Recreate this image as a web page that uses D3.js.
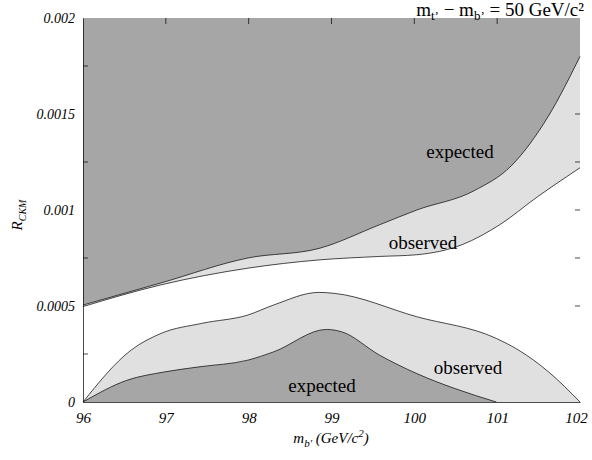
<!DOCTYPE html><html><head><script src="https://cdn.jsdelivr.net/npm/d3@7"></script>
<style>body{margin:0;background:#fff}text{font-family:"Liberation Serif","DejaVu Serif",serif !important}</style></head><body><svg id="c" width="592" height="460"></svg>
<script>
const xTicks=[96,97,98,99,100,101,102];
const yTicks=[0,0.0005,0.001,0.0015,0.002];
const yTickLabels=["0","0.0005","0.001","0.0015","0.002"];
const lowObsX=[96,96.58,96.94,97.44,97.99,98.3,98.85,99.03,100.03,100.99,101.26,101.62,102];
const lowObsY=[0,0.00027,0.000357,0.00041,0.000453,0.000505,0.000571,0.000566,0.000444,0.000331,0.00027,0.000157,0];
const lowExpX=[96,96.53,96.99,97.4,97.99,98.3,98.94,99.12,99.58,100.03,100.49,100.99];
const lowExpY=[0,0.000113,0.000157,0.000183,0.000218,0.000261,0.000378,0.000366,0.000244,0.000148,0.00007,0];
const upExpX=[96,96.94,97.99,98.85,99.58,100.03,100.72,101.17,101.62,102];
const upExpY=[0.000505,0.00062,0.00075,0.0008,0.000923,0.001,0.0011,0.00123,0.00149,0.0018];
const upObsX=[96,96.94,97.99,98.85,99.58,100.03,100.58,101.03,101.49,102];
const upObsY=[0.000497,0.00061,0.000697,0.00074,0.000758,0.000767,0.00082,0.000923,0.00107,0.00122];
const svg=d3.select("#c");
const x=d3.scaleLinear().domain([96,102]).range([83,580]);
const y=d3.scaleLinear().domain([0,0.002]).range([402,18]);
const zip=(a,b)=>a.map((v,i)=>[v,b[i]]);
const line=d3.line().x(d=>x(d[0])).y(d=>y(d[1])).curve(d3.curveMonotoneX);
const area=d3.area().x(d=>x(d[0])).y1(d=>y(d[1])).curve(d3.curveMonotoneX);
svg.append("path").attr("d",area.y0(y(0.002))(zip(upObsX,upObsY))).attr("fill","#e0e0e0");
svg.append("path").attr("d",area.y0(y(0.002))(zip(upExpX,upExpY))).attr("fill","#a6a6a6");
svg.append("path").attr("d",area.y0(y(0))(zip(lowObsX,lowObsY))).attr("fill","#e0e0e0");
svg.append("path").attr("d",area.y0(y(0))(zip(lowExpX,lowExpY))).attr("fill","#a6a6a6");
[[upObsX,upObsY],[upExpX,upExpY],[lowObsX,lowObsY],[lowExpX,lowExpY]].forEach(([a,b])=>
 svg.append("path").attr("d",line(zip(a,b))).attr("fill","none").attr("stroke","#000").attr("stroke-width",0.7));
const ax=svg.append("g").attr("transform","translate(0,402)").call(d3.axisBottom(x).tickValues(xTicks).tickFormat(d3.format("d")).tickSize(0).tickPadding(10));
ax.selectAll("text").attr("font-size",15).attr("font-style","italic");
ax.selectAll("text").filter(d=>d===102).attr("dx",-4);
ax.select(".domain").attr("stroke-width",0.7);
const ay=svg.append("g").attr("transform","translate(83,0)").call(d3.axisLeft(y).tickValues(yTicks).tickFormat((d,i)=>yTickLabels[i]).tickSize(0).tickPadding(8));
ay.selectAll("text").attr("font-size",14).attr("font-style","italic");
ay.select(".domain").attr("stroke-width",0.7);
xTicks.slice(1,-1).forEach(v=>{svg.append("line").attr("x1",x(v)).attr("x2",x(v)).attr("y1",18).attr("y2",24).attr("stroke","#000").attr("stroke-width",0.7);});
[0.0005,0.00075,0.001,0.0015,0.00125].forEach(v=>{svg.append("line").attr("x1",580).attr("x2",575).attr("y1",y(v)).attr("y2",y(v)).attr("stroke","#000").attr("stroke-width",0.7);});
[0.00025,0.00075,0.00125,0.00175].forEach(v=>{svg.append("line").attr("x1",83).attr("x2",88).attr("y1",y(v)).attr("y2",y(v)).attr("stroke","#000").attr("stroke-width",0.7);});
const t=(px,py,s,fs)=>svg.append("text").attr("x",px).attr("y",py).attr("font-size",fs||19).attr("text-anchor","middle").text(s);
t(460,158,"expected");t(423,249,"observed");t(468,374,"observed");t(322,392,"expected");
const ti=svg.append("text").attr("x",584).attr("y",16).attr("text-anchor","end").attr("font-size",19);
ti.append("tspan").text("m");ti.append("tspan").attr("font-size",13).attr("dy",4).text("t’");
ti.append("tspan").attr("dy",-4).text(" − m");ti.append("tspan").attr("font-size",13).attr("dy",4).text("b’");
ti.append("tspan").attr("dy",-4).text(" = 50 GeV/c²");
const xl=svg.append("text").attr("x",331).attr("y",443).attr("text-anchor","middle").attr("font-size",15).attr("font-style","italic");
xl.append("tspan").text("m");xl.append("tspan").attr("font-size",11).attr("dy",4).text("b'");xl.append("tspan").attr("dy",-4).text(" (GeV/c");
xl.append("tspan").attr("font-size",11).attr("dy",-6).text("2");xl.append("tspan").attr("dy",6).text(")");
const yl=svg.append("text").attr("transform","translate(22,215) rotate(-90)").attr("text-anchor","middle").attr("font-size",15).attr("font-style","italic");
yl.append("tspan").text("R");yl.append("tspan").attr("font-size",10).attr("dy",4).text("CKM");
</script></body></html>
